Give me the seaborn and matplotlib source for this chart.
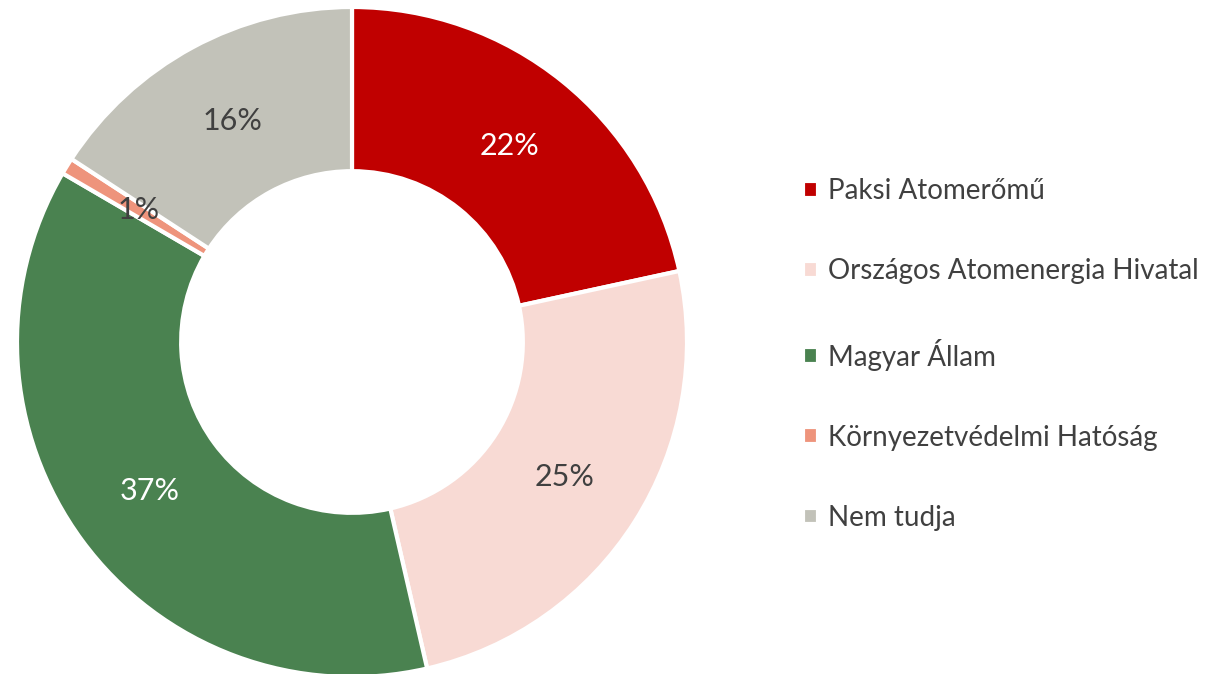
import matplotlib
matplotlib.use("Agg")
import matplotlib.pyplot as plt
import seaborn as sns
import numpy as np

sns.set_theme(style="white")
plt.rcParams['font.family'] = ['Lato', 'DejaVu Sans']

categories = ["Paksi Atomerőmű", "Országos Atomenergia Hivatal", "Magyar Állam",
              "Környezetvédelmi Hatóság", "Nem tudja"]
values = [21.6, 24.8, 37.0, 0.8, 15.8]
labels = ["22%", "25%", "37%", "1%", "16%"]
colors = ["#C00000", "#F8DAD4", "#4A8250", "#EE947C", "#C2C2B9"]
label_colors = ["white", "#404040", "white", "#404040", "#404040"]

W, H = 1218, 674
fig = plt.figure(figsize=(W / 100, H / 100), dpi=100)
cx, cy, R = 352, 342, 335
ax = fig.add_axes([(cx - R) / W, (H - cy - R) / H, 2 * R / W, 2 * R / H])

wedges, _ = ax.pie(values, colors=colors, startangle=90, counterclock=False,
                   radius=1.0, wedgeprops=dict(width=0.49, edgecolor="white", linewidth=3))
ax.set_xlim(-1, 1)
ax.set_ylim(-1, 1)
ax.set_aspect("auto")
ax.axis("off")

total = sum(values)
cum = 0
for v, lab, lc in zip(values, labels, label_colors):
    mid = 90 - (cum + v / 2) / total * 360
    cum += v
    r = 0.75
    ax.text(r * np.cos(np.radians(mid)), r * np.sin(np.radians(mid)), lab,
            ha="center", va="center", fontsize=22, color=lc)

fig.legend(wedges, categories, loc="center left", bbox_to_anchor=(778 / W, 0.474),
           frameon=False, fontsize=20, handlelength=0.55, handleheight=0.55,
           handletextpad=0.35, labelspacing=1.95, labelcolor="#404040")

fig.savefig("out.png", dpi=100)
